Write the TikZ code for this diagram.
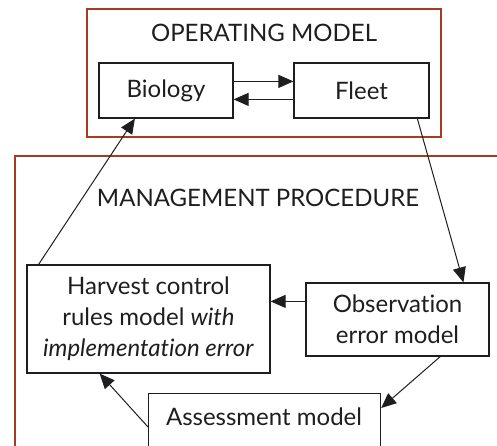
\documentclass[tikz,border=0pt]{standalone}
\usepackage{fontspec}
\setmainfont[Ligatures=NoCommon]{Lato}
\usetikzlibrary{arrows.meta,calc}
\definecolor{frame}{RGB}{165,60,32}
\definecolor{ink}{RGB}{30,30,32}
\tikzset{
  box/.style={draw=ink, line width=1.2pt, inner sep=0pt, align=center, text=ink},
  lbl/.style={inner sep=0pt, text=ink},
  mframe/.style={draw=frame, line width=1.8pt},
  arr/.style={draw=ink, line width=1pt, -{Triangle[length=15pt,width=13pt]}},
}
\begin{document}
\begin{tikzpicture}[x=1pt,y=-1pt, font=\fontsize{24}{31}\selectfont]
\useasboundingbox (0,0) rectangle (497,446);
\clip (0,0) rectangle (497,446);
% frames
\node[mframe, minimum width=354pt, minimum height=128pt, inner sep=0pt] (om) at (264,73) {};
\node[lbl] (omt) at (264,33) {OPERATING MODEL};
\node[mframe, minimum width=520pt, minimum height=320pt, inner sep=0pt, anchor=north west] (mp) at (14,155) {};
\node[lbl] (mpt) at (258,198) {MANAGEMENT PROCEDURE};
% boxes
\node[box, minimum width=134pt, minimum height=55pt] (bio) at (166,90.5) {Biology};
\node[box, minimum width=135pt, minimum height=55pt] (fleet) at (361.5,90.5) {Fleet};
\node[box, minimum width=243pt, minimum height=108pt] (hcr) at (148.5,319) {Harvest control\\rules model \textit{with}\\\textit{implementation error}};
\node[box, minimum width=183pt, minimum height=73pt] (obs) at (397.5,319.5) {Observation\\error model};
\node[box, minimum width=232pt, minimum height=80pt, anchor=north west] (ass) at (148,393) {};
\node[lbl] (asst) at (264,417) {Assessment model};
% connectors
\draw[arr] ($(bio.north east)+(0,19)$) -- ($(fleet.north west)+(0,19)$);
\draw[arr] ($(fleet.north west)+(0,37)$) -- ($(bio.north east)+(0,37)$);
\draw[arr] ($(fleet.south west)!0.91!(fleet.south east)$) -- ($(obs.north west)!0.858!(obs.north east)$);
\draw[arr] ($(hcr.north west)!0.05!(hcr.north east)$) -- ($(bio.south west)!0.27!(bio.south east)$);
\draw[arr] ($(obs.north west)+(0,19)$) -- ($(hcr.north east)+(0,37)$);
\draw[arr] ($(obs.south west)!0.732!(obs.south east)$) -- ($(ass.north east)+(0,15)$);
\draw[arr] ($(ass.north west)+(0,34)$) -- ($(hcr.south west)!0.30!(hcr.south east)$);
\end{tikzpicture}
\end{document}
